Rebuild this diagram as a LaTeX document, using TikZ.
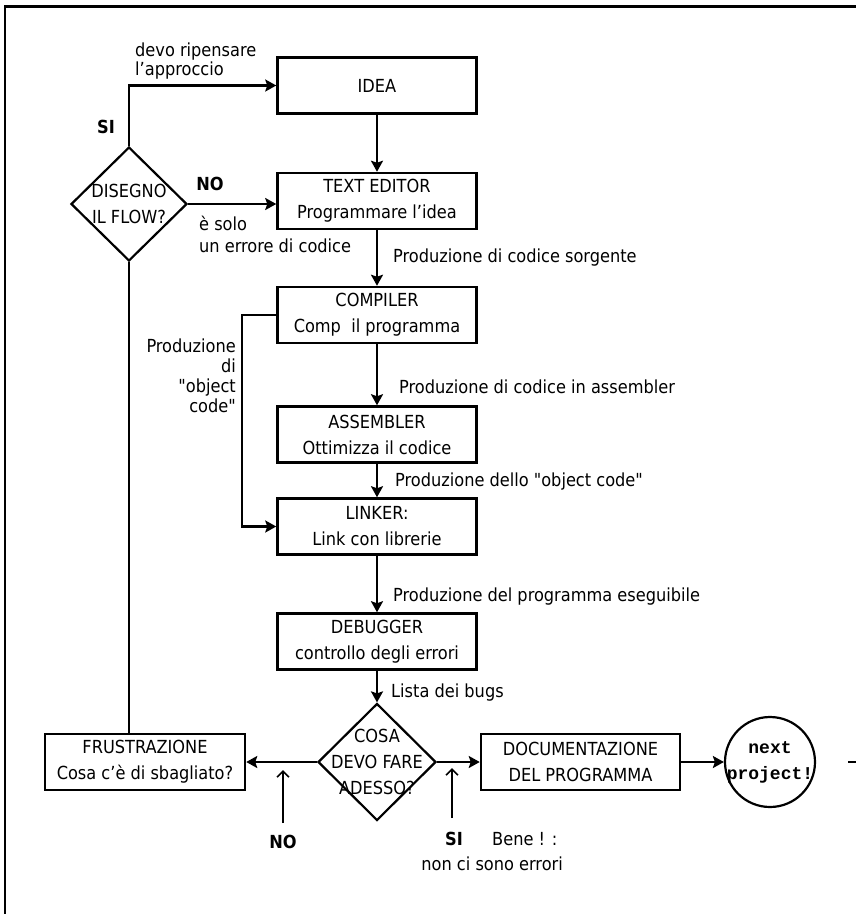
\documentclass[tikz,border=0pt]{standalone}
\usepackage{fontspec}
\setmainfont{DejaVu Sans Condensed}[Ligatures=TeXOff]
\newfontfamily\projfont{Liberation Mono}
\usetikzlibrary{arrows.meta,shapes.geometric}
\newcommand{\zw}[1]{\makebox[0pt]{#1}}
\tikzset{
  stepbox/.style={draw, line width=2.5pt, align=center, minimum width=199pt,
    minimum height=56pt, inner sep=0pt},
  choice/.style={diamond, draw, line width=2.2pt, align=center, inner sep=0pt},
  arr/.style={-{Stealth[length=11pt,width=12pt,inset=2pt]}, line width=2.2pt},
  uparr/.style={-{Straight Barb[length=6pt,width=12pt]}, line width=1.6pt},
  lbl/.style={font=\fontsize{18}{20}\selectfont, inner sep=0pt},
  boldlbl/.style={inner sep=0pt, font=\bfseries\fontsize{18}{20}\selectfont}
}
\begin{document}
\begin{tikzpicture}[x=1pt,y=-1pt,font=\fontsize{18}{26}\selectfont]
  \useasboundingbox (0,0) rectangle (856,914);
  % frame
  \draw[line width=2.2pt] (5,914) -- (5,6.5);
  \draw[line width=3pt] (4,6.5) -- (856,6.5);
  \draw[line width=2pt] (848,762) -- (856,762);

  % main chain
  \node[stepbox] (idea) at (377,85.5) {IDEA};
  \node[stepbox] (editor) at (377,201) {TEXT EDITOR\\Programmare l’idea};
  \node[stepbox] (compiler) at (377,315) {COMPILER\\Comp\ \ il programma};
  \node[stepbox] (assembler) at (377,434.5) {ASSEMBLER\\Ottimizza il codice};
  \node[stepbox] (linker) at (377,526.5) {LINKER:\\Link con librerie};
  \node[stepbox] (debugger) at (377,641.5) {DEBUGGER\\controllo degli errori};
  \node[choice, minimum width=118pt, minimum height=117pt] (cosa) at (377,762)
    {\zw{COSA}\\\zw{DEVO FARE}\\\zw{ADESSO?}};
  \node[stepbox, minimum width=200pt] (frust) at (145,762)
    {FRUSTRAZIONE\\Cosa c’è di sbagliato?};
  \node[stepbox] (doc) at (580.5,762) {DOCUMENTAZIONE\\DEL PROGRAMMA};
  \node[circle, draw, line width=2.2pt, minimum size=90pt, inner sep=0pt, align=center,
    font=\projfont\bfseries\fontsize{18}{26}\selectfont] (next) at (770,762)
    {\zw{next}\\\zw{project!}};
  \node[choice, minimum width=116pt, minimum height=114pt] (flow) at (129,204)
    {\zw{DISEGNO}\\\zw{IL FLOW?}};

  % labels
  \node[lbl, anchor=west] (srcLbl) at (393,258) {Produzione di codice sorgente};
  \node[lbl, anchor=west] (asmLbl) at (399,387) {Produzione di codice in assembler};
  \node[lbl, anchor=west] (objLbl) at (395,482) {Produzione dello "object code"};
  \node[lbl, anchor=west] (exeLbl) at (393,597) {Produzione del programma eseguibile};
  \node[lbl, anchor=west] (bugLbl) at (391,693) {Lista dei bugs};
  \node[lbl, anchor=east, align=right] (objcodeLbl) at (236,376)
    {Produzione\\di\\"object\\code"};
  \node[lbl, anchor=west, align=left, font=\fontsize{18}{19}\selectfont] (rethinkLbl)
    at (135,61) {devo ripensare\\l’approccio};
  \node[lbl, anchor=west, align=left, font=\fontsize{18}{22}\selectfont] (codeErrLbl)
    at (199,234) {è solo\\un errore di codice};
  \node[boldlbl] (siTop) at (106,127) {SI};
  \node[boldlbl] (noTop) at (210,184) {NO};
  \node[boldlbl] (noLow) at (283,842) {NO};
  \node[boldlbl] (siLow) at (454,839) {SI};
  \node[lbl, anchor=west] (beneLbl) at (492,839) {Bene ! :};
  \node[lbl, anchor=east] (okLbl) at (563,864) {non ci sono errori};

  % connectors
  \draw[arr] (idea) -- (editor);
  \draw[arr] (editor) -- (compiler);
  \draw[arr] (compiler) -- (assembler);
  \draw[arr] (assembler) -- (linker);
  \draw[arr] (linker) -- (debugger);
  \draw[arr] (debugger) -- (cosa);
  \draw[arr] (cosa) -- (frust);
  \draw[arr] (cosa) -- (doc);
  \draw[arr] (doc) -- (next);
  \draw[arr] (flow.north) |- (idea.west);
  \draw[arr] (flow.east) -- (flow.east -| editor.west);
  \draw[line width=2.2pt] (flow.south) -- (flow.south |- frust.north);
  \draw[arr] (compiler.west) -- ++(-34,0) |- (linker.west);

  \coordinate (noTail) at (283,823);
  \coordinate (noTip) at (283,770);
  \coordinate (siTail) at (452,818);
  \coordinate (siTip) at (452,768);
  \draw[uparr] (noTail) -- (noTip);
  \draw[uparr] (siTail) -- (siTip);
\end{tikzpicture}
\end{document}
